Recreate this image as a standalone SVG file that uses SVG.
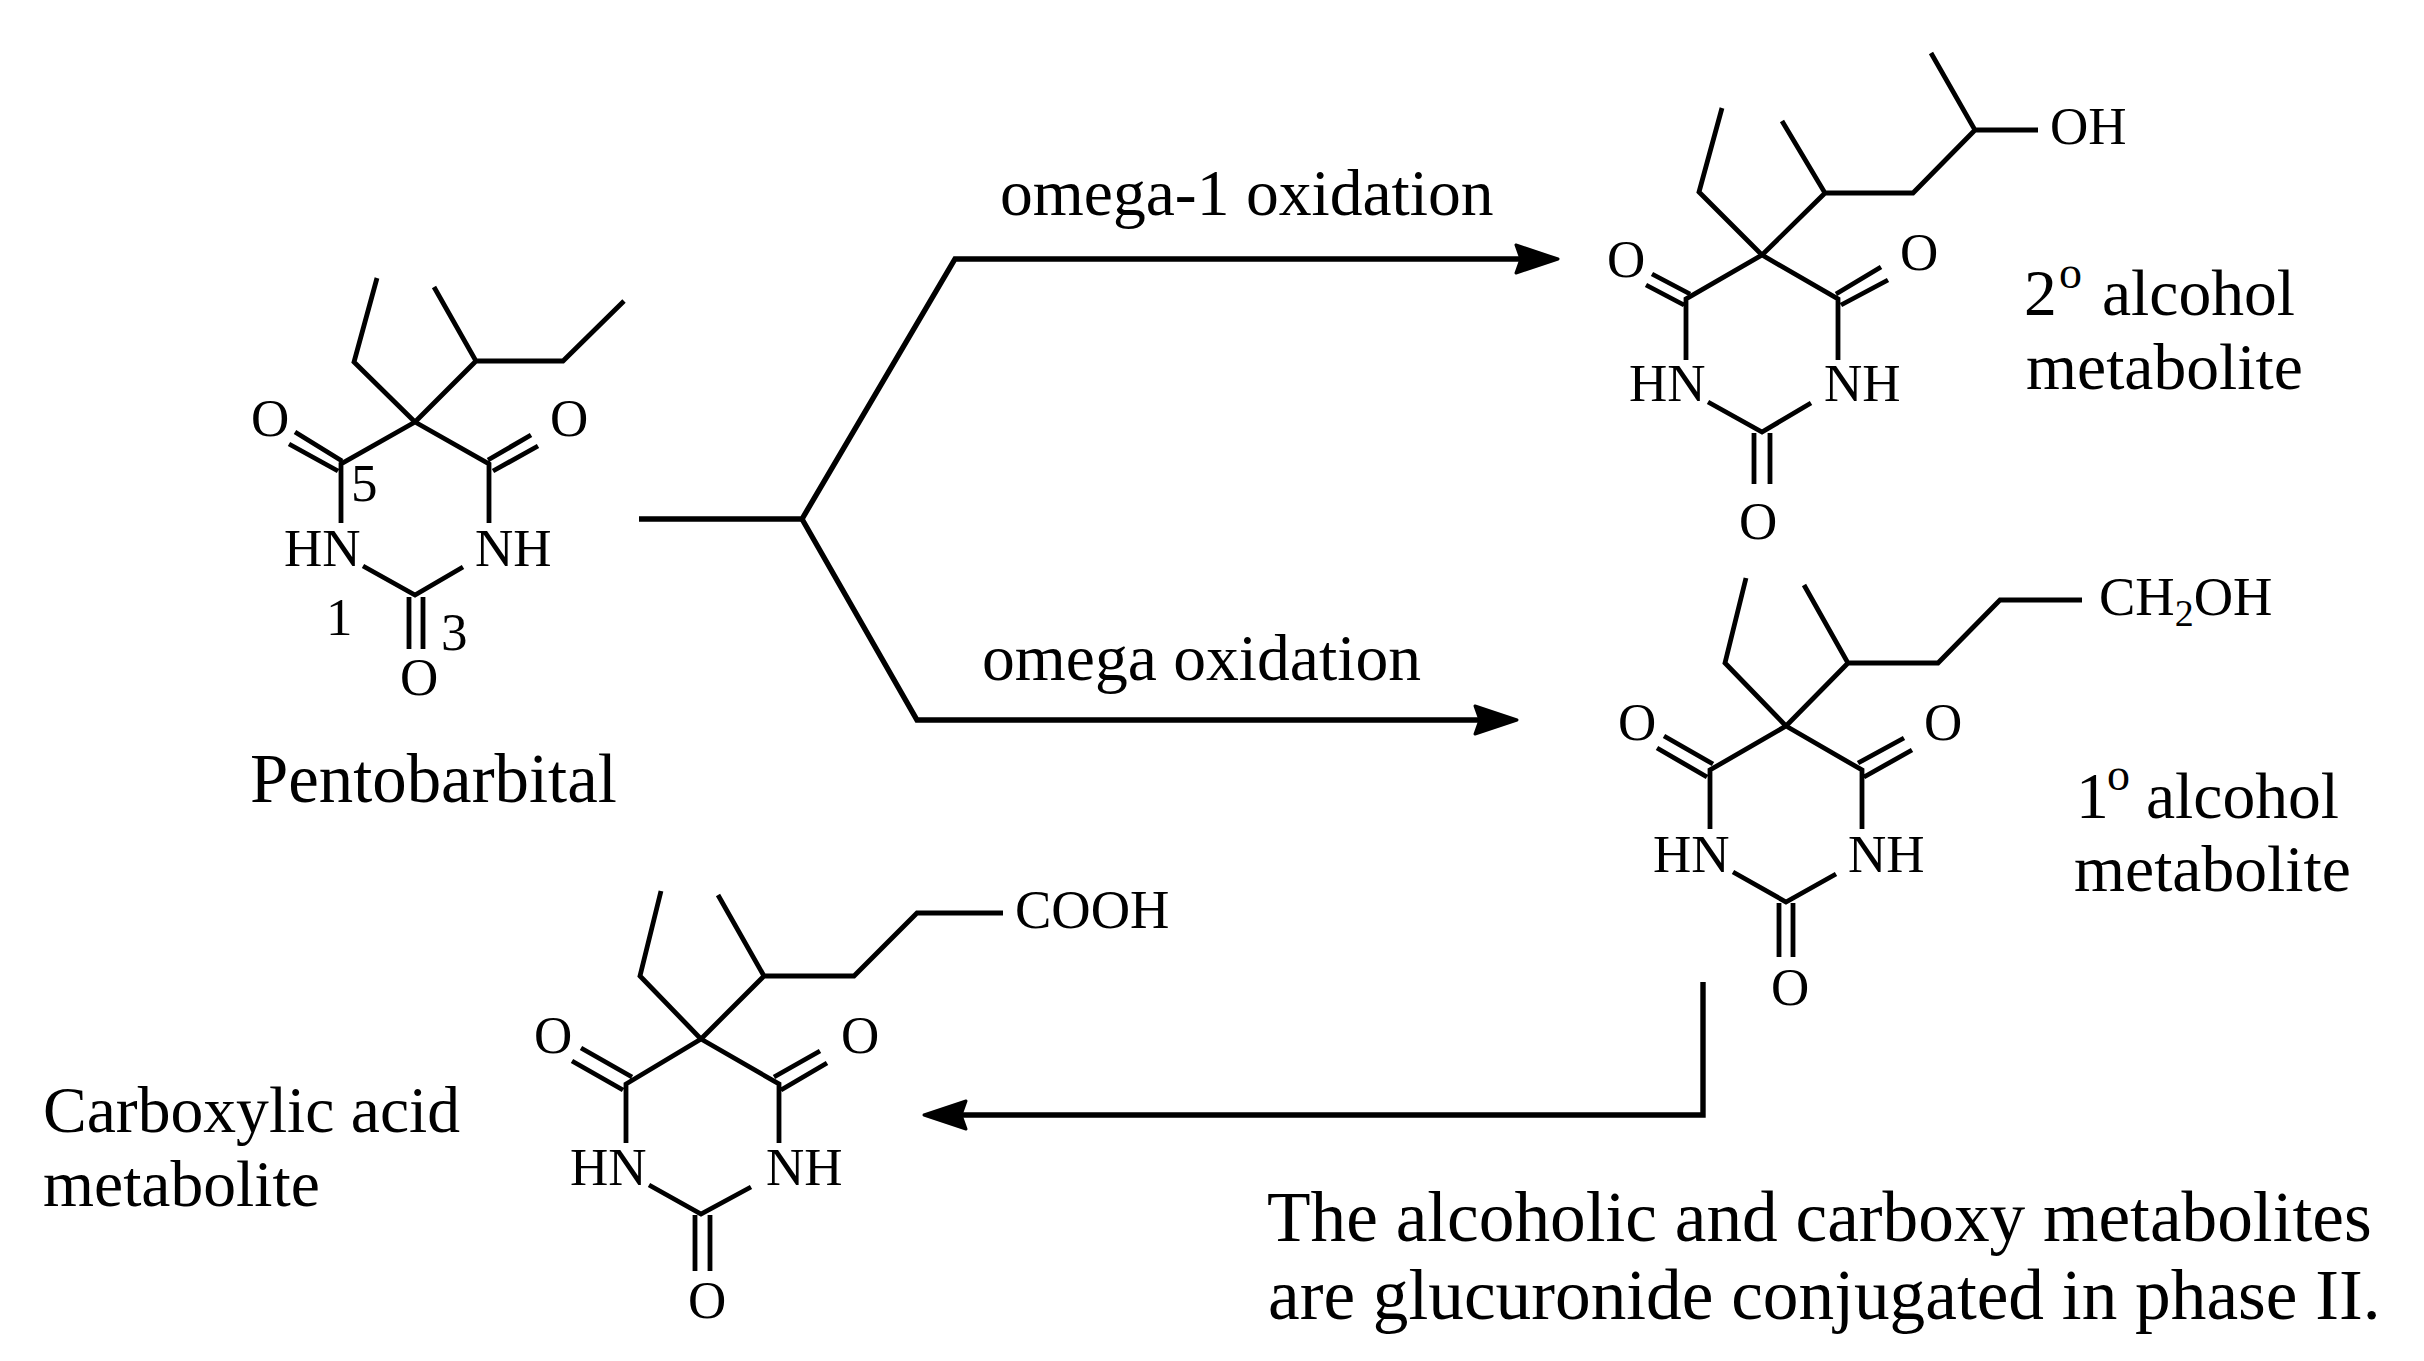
<svg xmlns="http://www.w3.org/2000/svg" width="2424" height="1361" viewBox="0 0 2424 1361">
<defs>
<marker id="head" markerUnits="userSpaceOnUse" markerWidth="60" markerHeight="40" refX="12" refY="20" orient="auto" overflow="visible">
<path d="M2,6 L44,20 L2,34 L7,20 Z" fill="#000" stroke="#000" stroke-width="3" stroke-linejoin="round"/>
</marker>
</defs>
<style>
text{font-family:"Liberation Serif","Times New Roman",serif;fill:#000}
.a{font-size:53px}
.c{font-size:54.5px}
.b{font-size:65.6px}
.p{font-size:68.8px}
.n{font-size:71.3px}
.s{font-size:46px}
.i{font-size:38px}
.bond{fill:none;stroke:#000;stroke-width:4.8;stroke-linejoin:miter}
.conn{fill:none;stroke:#000;stroke-width:5.4;stroke-linejoin:miter}
</style>
<rect width="2424" height="1361" fill="#fff"/>
<g id="connectors">
<path class="conn" d="M639,519 H802 L955,259 H1526" marker-end="url(#head)"/>
<path class="conn" d="M802,519 L917,720 H1485" marker-end="url(#head)"/>
<path class="conn" d="M1703,982 V1115 H956" marker-end="url(#head)"/>
</g>
<g id="pentobarbital">
<path class="bond" d="M377,278 L354,362 L415,422 L341,464 V523 M415,422 L476,361 L434,287 M476,361 H563 L624,301 M415,422 L489,464 V523 M363,566 L415,595 L463,567 M295,432 L342,461 M289,444 L338,471 M531,435 L488,460 M538,446 L493,471 M409,597 V649 M423,597 V649"/>
<text class="a" x="251" y="436">O</text>
<text class="a" x="550" y="436">O</text>
<text class="a" x="284" y="566">HN</text>
<text class="a" x="475" y="566">NH</text>
<text class="a" x="400" y="695">O</text>
<text class="a" x="351" y="501">5</text>
<text class="a" x="326" y="635">1</text>
<text class="a" x="441" y="650">3</text>
<text class="p" x="250" y="802">Pentobarbital</text>
</g>
<g id="secondary-alcohol">
<path class="bond" d="M1722,108 L1699,192 L1762,255 L1686,299 V360 M1762,255 L1825,193 L1782,121 M1825,193 H1913 L1975,130 L1931,53 M1975,130 H2038 M1762,255 L1838,299 V360 M1708,402 L1762,432 L1811,403 M1652,274 L1690,294 M1646,285 L1684,305 M1881,267 L1836,294 M1888,280 L1841,305 M1754,433 V484 M1770,433 V484"/>
<text class="a" x="1607" y="277">O</text>
<text class="a" x="1900" y="270">O</text>
<text class="a" x="1629" y="401">HN</text>
<text class="a" x="1824" y="401">NH</text>
<text class="a" x="1739" y="539">O</text>
<text class="a" x="2050" y="144">OH</text>
<text class="b" x="2024" y="315">2<tspan class="s" x="2059" y="288">o</tspan> <tspan x="2102" y="315">alcohol</tspan></text>
<text class="b" x="2026" y="389">metabolite</text>
</g>
<g id="primary-alcohol">
<path class="bond" d="M1746,578 L1725,663 L1786,726 L1710,770 V829 M1786,726 L1848,663 L1804,585 M1848,663 H1938 L2000,600 H2082 M1786,726 L1862,770 V829 M1733,872 L1786,902 L1836,874 M1664,736 L1713,764 M1657,748 L1707,777 M1904,738 L1858,763 M1912,750 L1864,777 M1779,903 V957 M1793,903 V957"/>
<text class="a" x="1618" y="740">O</text>
<text class="a" x="1924" y="740">O</text>
<text class="a" x="1653" y="872">HN</text>
<text class="a" x="1848" y="872">NH</text>
<text class="a" x="1771" y="1005">O</text>
<text class="c" x="2099" y="615">CH<tspan class="i" y="626">2</tspan><tspan y="615">OH</tspan></text>
<text class="b" x="2076" y="818">1<tspan class="s" x="2107" y="790">o</tspan> <tspan x="2146" y="818">alcohol</tspan></text>
<text class="b" x="2074" y="891">metabolite</text>
</g>
<g id="carboxylic-acid">
<path class="bond" d="M661,891 L640,976 L701,1039 L626,1084 V1143 M701,1039 L764,976 L718,895 M764,976 H854 L917,913 H1003 M701,1039 L779,1084 V1143 M649,1185 L701,1214 L751,1187 M581,1048 L632,1077 M572,1061 L623,1090 M820,1051 L774,1077 M827,1063 L781,1090 M695,1215 V1271 M710,1215 V1271"/>
<text class="a" x="534" y="1053">O</text>
<text class="a" x="841" y="1053">O</text>
<text class="a" x="570" y="1185">HN</text>
<text class="a" x="766" y="1185">NH</text>
<text class="a" x="688" y="1318">O</text>
<text class="c" x="1015" y="928">COOH</text>
<text class="b" x="43" y="1132">Carboxylic acid</text>
<text class="b" x="43" y="1206">metabolite</text>
</g>
<g id="labels">
<text class="b" x="1000" y="215">omega-1 oxidation</text>
<text class="b" x="982" y="680">omega oxidation</text>
<text class="n" x="1267" y="1241">The alcoholic and carboxy metabolites</text>
<text class="n" x="1268" y="1319">are glucuronide conjugated in phase II.</text>
</g>
</svg>
